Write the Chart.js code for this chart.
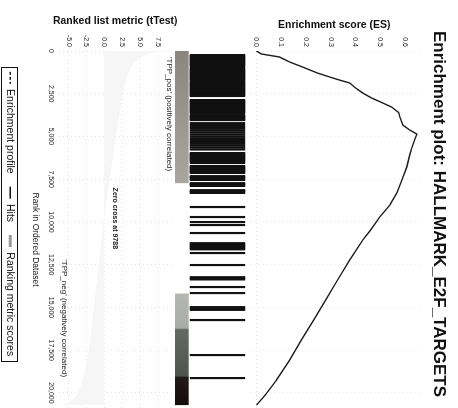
<!DOCTYPE html>
<html><head><meta charset="utf-8">
<script src="https://cdn.jsdelivr.net/npm/chart.js@4.4.1/dist/chart.umd.min.js"></script>
<style>
html,body{margin:0;padding:0;background:#fff;overflow:hidden;width:458px;height:408px;}
#rot{position:absolute;left:0;top:0;width:428px;height:463px;transform-origin:0 0;transform:translate(458px,0) rotate(90deg);background:#fff;}
.c{position:absolute;}
</style></head><body>
<div id="rot">
  <canvas id="es" class="c" width="428" height="210" style="left:0;top:0"></canvas>
  <canvas id="hits" class="c" width="377" height="72" style="left:51px;top:211px"></canvas>
  <canvas id="metric" class="c" width="428" height="197" style="left:0;top:266px"></canvas>
</div>
<script>
// ---- data ----
const rankTicks = [0, 2500, 5000, 7500, 10000, 12500, 15000, 17500, 20000];
const esTicks = [0, 0.1, 0.2, 0.3, 0.4, 0.5, 0.6];
const metricTicks = [-5, -2.5, 0, 2.5, 5, 7.5];

const esRanks  = [0, 175, 350, 640, 936, 1290, 1520, 1700, 1871, 2165, 2456, 2750, 3040, 3280, 3600, 3860, 4330, 4620, 4860, 5200, 5700, 6080, 6790, 7550, 8300, 9000, 9710, 10470, 11060, 12230, 13400, 14570, 15740, 16900, 18080, 19250, 20120, 20710];
const esValues = [0, 0.02, 0.093, 0.134, 0.186, 0.247, 0.296, 0.336, 0.377, 0.401, 0.43, 0.466, 0.511, 0.547, 0.575, 0.58, 0.592, 0.62, 0.649, 0.64, 0.628, 0.62, 0.608, 0.588, 0.568, 0.54, 0.499, 0.462, 0.43, 0.377, 0.328, 0.28, 0.231, 0.182, 0.134, 0.081, 0.036, 0];

const hitRanks = [
  240, 290, 340, 390, 440, 490, 540, 590, 640, 690, 740, 790, 840, 890, 990, 1060, 1110, 1160, 1210, 1260, 1310, 1360, 1410, 1460, 1510, 1560, 1610, 1660, 1700,
  1780, 1830, 1880, 1930, 1980, 2030, 2080, 2130, 2180, 2230, 2280, 2330, 2380, 2430, 2480, 2530, 2580, 2630,
  2870, 2920, 2970, 3020, 3070, 3120, 3160,
  3230, 3280, 3330, 3380, 3430, 3480, 3530, 3580, 3630,
  3750, 3800, 3850, 3900, 3950, 4000, 4040,
  4220, 4330, 4440, 4550, 4660, 4770, 4880, 4990, 5100, 5210, 5320, 5430, 5540, 5650, 5760,
  5970, 6020, 6070, 6120, 6170, 6220, 6270, 6320, 6370, 6420, 6470, 6550,
  6730, 6780, 6830, 6880, 6930, 6980, 7030, 7080, 7130,
  7320, 7370, 7420, 7470, 7540,
  7730, 7780, 7830, 7890,
  8140, 8190, 8240, 8300,
  9126, 9711, 10004, 10179, 10647,
  11240, 11300, 11360, 11420, 11480, 11540, 11600,
  11817, 12519, 13230, 13290, 13360, 13806, 14157, 14980, 15060, 15140, 15736, 17784, 19130
];

const metricRanks  = [0, 100, 300, 600, 1000, 1600, 2500, 3500, 5000, 6500, 8000, 9788, 11000, 12500, 14000, 15500, 17000, 18500, 19500, 20200, 20600, 20710];
const metricValues = [9.2, 6.8, 5.3, 4.4, 3.7, 3.1, 2.6, 2.2, 1.6, 1.1, 0.6, 0, -0.4, -0.8, -1.2, -1.6, -2.0, -2.6, -3.2, -4.0, -5.0, -6.2];

const colorbarRanks  = [0, 7700, 7760, 14150, 14220, 16200, 16300, 19000, 19100, 20710];
const colorbarShades = ['#8b8580', '#aaa59f', '#ffffff', '#ffffff', '#b4b6b2', '#a9aca8', '#636a62', '#4e554d', '#211818', '#150d0d'];

// ---- styling ----
const FONT = "'Liberation Sans', Arial, sans-serif";
Chart.defaults.font.family = FONT;
const X_MAX = 22050;
const GRID = 'rgba(0,0,0,0.11)';
const setTicks = arr => s => { s.ticks = arr.map(v => ({value: v})); };
const noPadV = w => s => { s.width = w; s.paddingTop = 0; s.paddingBottom = 0; };
const noPadH = h => s => { s.height = h; s.paddingLeft = 0; s.paddingRight = 0; };

// ES panel
new Chart(document.getElementById('es'), {
  type: 'line',
  data: {datasets: [{
    label: 'Enrichment profile',
    data: esRanks.map((r, i) => ({x: r, y: esValues[i]})),
    borderColor: '#1c1c1c', borderWidth: 1.4, pointRadius: 0, tension: 0, fill: false
  }]},
  options: {
    responsive: false, animation: false, events: [],
    layout: {padding: {left: 0, right: 0, top: 0, bottom: 1}},
    plugins: {
      legend: {display: false}, tooltip: {enabled: false},
      title: {display: true, text: 'Enrichment plot: HALLMARK_E2F_TARGETS',
        font: {family: FONT, size: 17, weight: 'bold'}, color: '#111', padding: {top: 9, bottom: 9}}
    },
    scales: {
      x: {type: 'linear', min: 0, max: X_MAX, afterBuildTicks: setTicks(rankTicks), afterFit: noPadH(0),
        ticks: {display: false}, grid: {drawTicks: false, color: GRID}, border: {display: false, dash: [1, 3]}},
      y: {min: -0.03, max: 0.66, afterBuildTicks: setTicks(esTicks), afterFit: noPadV(51),
        ticks: {font: {size: 7}, color: '#222', padding: 4, callback: v => v.toFixed(1)},
        grid: {drawTicks: false, color: c => c.tick && c.tick.value === 0 ? GRID : 'rgba(0,0,0,0)'},
        border: {display: false, dash: [1, 3]},
        title: {display: true, text: 'Enrichment score (ES)', font: {size: 10.5, weight: 'bold'}, color: '#111', padding: {top: 19, bottom: 0}}}
    }
  }
});

// Hits panel with colour bar
const colorbar = {
  id: 'colorbar',
  beforeDatasetsDraw(chart) {
    const {ctx, scales: {x, y}} = chart;
    const r0 = colorbarRanks[0], r1 = colorbarRanks[colorbarRanks.length - 1];
    const x0 = x.getPixelForValue(r0), x1 = x.getPixelForValue(r1);
    const g = ctx.createLinearGradient(x0, 0, x1, 0);
    colorbarRanks.forEach((r, i) => g.addColorStop((r - r0) / (r1 - r0), colorbarShades[i]));
    const yt = y.getPixelForValue(0.19), yb = y.getPixelForValue(0);
    ctx.save(); ctx.fillStyle = g; ctx.fillRect(x0, yt, x1 - x0, yb - yt); ctx.restore();
  }
};
new Chart(document.getElementById('hits'), {
  type: 'bar',
  data: {datasets: [{
    label: 'Hits',
    data: hitRanks.map(r => ({x: r, y: [0.21, 0.97]})),
    backgroundColor: '#111', barThickness: 1.5, grouped: false
  }]},
  options: {
    responsive: false, animation: false, events: [],
    layout: {padding: 0},
    plugins: {legend: {display: false}, tooltip: {enabled: false}},
    scales: {
      x: {type: 'linear', min: 0, max: X_MAX, display: false, offset: false},
      y: {min: 0, max: 1, display: false}
    }
  },
  plugins: [colorbar]
});

// Ranked metric panel
const notes = {
  id: 'notes',
  afterDatasetsDraw(chart) {
    const {ctx, scales: {x, y}} = chart;
    ctx.save();
    ctx.fillStyle = '#222'; ctx.textBaseline = 'middle';
    ctx.font = '8px ' + FONT; ctx.textAlign = 'left';
    ctx.fillText("'TPP_pos' (positively correlated)", x.getPixelForValue(350), y.getPixelForValue(9.0));
    ctx.textAlign = 'right';
    ctx.fillText("'TPP_neg' (negatively correlated)", x.getPixelForValue(19070), y.getPixelForValue(-5.56));
    ctx.font = 'bold 7px ' + FONT; ctx.textAlign = 'center';
    ctx.fillText('Zero cross at 9788', x.getPixelForValue(9788), y.getPixelForValue(1.53));
    ctx.restore();
  }
};
const legendBox = {
  id: 'legendBox',
  afterDraw(chart) {
    const lg = chart.legend; if (!lg || !lg.legendHitBoxes || !lg.legendHitBoxes.length) return;
    const hb = lg.legendHitBoxes, ctx = chart.ctx;
    const l = Math.min(...hb.map(b => b.left)) - 5, r = Math.max(...hb.map(b => b.left + b.width)) + 5;
    const t = Math.min(...hb.map(b => b.top)) - 3, bt = Math.max(...hb.map(b => b.top + b.height)) + 2;
    ctx.save(); ctx.strokeStyle = '#111'; ctx.lineWidth = 1;
    ctx.strokeRect(Math.round(l) + 0.5, Math.round(t) + 0.5, Math.round(r - l), Math.round(bt - t));
    ctx.restore();
  }
};
new Chart(document.getElementById('metric'), {
  type: 'line',
  data: {datasets: [{
    label: 'Ranking metric scores',
    data: metricRanks.map((r, i) => ({x: r, y: metricValues[i]})),
    borderColor: 'rgba(0,0,0,0)', borderWidth: 0, backgroundColor: '#f6f6f6', fill: 'origin', pointRadius: 0, tension: 0
  }]},
  options: {
    responsive: false, animation: false, events: [],
    layout: {padding: {left: 0, right: 0, top: 20, bottom: 0}},
    plugins: {
      tooltip: {enabled: false},
      legend: {display: true, position: 'bottom',
        labels: {font: {size: 10.5}, color: '#111', usePointStyle: true, pointStyleWidth: 12, padding: 13, boxHeight: 10,
          generateLabels: () => [
            {text: 'Enrichment profile', pointStyle: 'line', strokeStyle: '#1c1c1c', fillStyle: '#1c1c1c', lineWidth: 1.5, lineDash: [3, 2], fontColor: '#111', hidden: false},
            {text: 'Hits', pointStyle: 'line', strokeStyle: '#111', fillStyle: '#111', lineWidth: 1.5, fontColor: '#111', hidden: false},
            {text: 'Ranking metric scores', pointStyle: 'line', strokeStyle: '#9a9a9a', fillStyle: '#9a9a9a', lineWidth: 3, fontColor: '#111', hidden: false}
          ]}}
    },
    scales: {
      x: {type: 'linear', min: 0, max: X_MAX, afterBuildTicks: setTicks(rankTicks), afterFit: noPadH(30),
        ticks: {font: {size: 7}, color: '#222', padding: 3, maxRotation: 0, autoSkip: false},
        grid: {drawTicks: false, color: GRID}, border: {display: false, dash: [1, 3]},
        title: {display: true, text: 'Rank in Ordered Dataset', font: {size: 8.5}, color: '#222', padding: {top: 2, bottom: 2}}},
      y: {min: -6.39, max: 9.44, afterBuildTicks: setTicks(metricTicks), afterFit: noPadV(51),
        ticks: {font: {size: 7}, color: '#222', padding: 4, callback: v => v.toFixed(1)},
        grid: {drawTicks: false, color: GRID}, border: {display: false, dash: [1, 3]},
        title: {display: true, text: 'Ranked list metric (tTest)', font: {size: 10.5, weight: 'bold'}, color: '#111', padding: {top: 15, bottom: 0}}}
    }
  },
  plugins: [notes, legendBox]
});
</script>
</body></html>
